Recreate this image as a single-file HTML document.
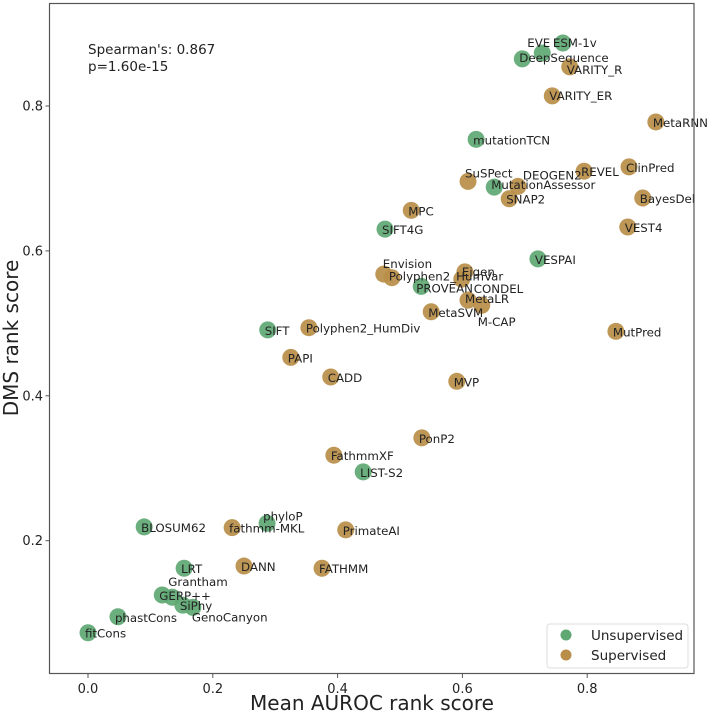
<!DOCTYPE html>
<html><head><meta charset="utf-8"><style>
html,body{margin:0;padding:0;background:#fff;}
svg{display:block;font-family:"DejaVu Sans","Liberation Sans",sans-serif;}
</style></head><body>
<svg id="chart" width="709" height="716" viewBox="0 0 709 716">
<rect x="0" y="0" width="709" height="716" fill="#fff"/>
<g id="axes"></g>
<g id="points"></g>
<g id="labels"></g>
<rect x="49.5" y="3.5" width="644.5" height="670" fill="none" stroke="#555" stroke-width="1.2"/>
<text x="88" y="54" font-size="13.5" fill="#222">Spearman's: 0.867</text>
<text x="88" y="71" font-size="13.5" fill="#222">p=1.60e-15</text>
<text x="372" y="710" font-size="20" fill="#222" text-anchor="middle">Mean AUROC rank score</text>
<text transform="translate(18,338) rotate(-90)" font-size="20" fill="#222" text-anchor="middle">DMS rank score</text>
<g>
<rect x="547" y="624" width="141" height="44" rx="3" fill="#fff" stroke="#ddd"/>
<circle cx="566" cy="635" r="5.5" fill="#5fa873"/>
<text x="591" y="640" font-size="13.5" fill="#222">Unsupervised</text>
<circle cx="566" cy="655" r="5.5" fill="#b98e48"/>
<text x="591" y="660" font-size="13.5" fill="#222">Supervised</text>
</g>
</svg>
<script>
const names = ["ESM-1v","EVE","DeepSequence","VARITY_R","VARITY_ER","MetaRNN","mutationTCN","SuSPect","MutationAssessor","DEOGEN2","SNAP2","REVEL","ClinPred","BayesDel","VEST4","MPC","SIFT4G","VESPAI","Envision","Polyphen2_HumVar","Eigen","CONDEL","PROVEAN","MetaLR","M-CAP","MetaSVM","MutPred","SIFT","Polyphen2_HumDiv","PAPI","CADD","MVP","PonP2","FathmmXF","LIST-S2","phyloP","fathmm-MKL","PrimateAI","BLOSUM62","LRT","DANN","FATHMM","GERP++","Grantham","SiPhy","GenoCanyon","phastCons","fitCons"];
const xValues = [0.761,0.728,0.696,0.772,0.744,0.910,0.622,0.609,0.651,0.689,0.675,0.795,0.867,0.889,0.865,0.518,0.476,0.721,0.474,0.487,0.604,0.599,0.534,0.609,0.631,0.550,0.846,0.288,0.354,0.325,0.389,0.591,0.535,0.394,0.441,0.287,0.231,0.413,0.090,0.154,0.250,0.375,0.119,0.135,0.152,0.168,0.048,0.000];
const yValues = [0.887,0.873,0.865,0.854,0.814,0.778,0.754,0.696,0.688,0.689,0.672,0.710,0.716,0.673,0.633,0.656,0.630,0.589,0.568,0.563,0.571,0.561,0.551,0.532,0.525,0.516,0.489,0.491,0.494,0.453,0.426,0.420,0.342,0.318,0.295,0.224,0.218,0.215,0.219,0.162,0.165,0.162,0.125,0.122,0.111,0.108,0.095,0.073];
const groups = ["U","U","U","S","S","S","U","S","U","S","S","S","S","S","S","S","U","U","S","S","S","S","U","S","S","S","S","U","S","S","S","S","S","S","U","U","S","S","U","U","S","S","U","U","U","U","U","U"];
const xTicks = [0.0,0.2,0.4,0.6,0.8];
const yTicks = [0.2,0.4,0.6,0.8];
// label offsets in px (style, not data)
const labelDx = {"EVE":-15,"ESM-1v":-10,"DEOGEN2":5,"Envision":-1,"PROVEAN":-5,"CONDEL":12,"M-CAP":-4,"phyloP":-4,"Grantham":-4,"GenoCanyon":-1};
const labelDy = {"EVE":-6,"ESM-1v":4,"DeepSequence":3,"VARITY_R":7,"VARITY_ER":4,"SuSPect":-4,"DEOGEN2":-7,"MutationAssessor":2,"Envision":-6,"Polyphen2_HumVar":3,"Eigen":4,"PROVEAN":6,"CONDEL":14,"MetaLR":3,"M-CAP":21,"phyloP":-3,"Grantham":-11,"GenoCanyon":14};

const NS="http://www.w3.org/2000/svg";
const xs = v => 88 + v*624;
const ys = v => 685.6 - v*724.5;
const axes=document.getElementById('axes');
const pts=document.getElementById('points');
const lbls=document.getElementById('labels');
function mk(tag,attrs,parent){const e=document.createElementNS(NS,tag);for(const k in attrs)e.setAttribute(k,attrs[k]);parent.appendChild(e);return e;}
xTicks.forEach(t=>{
  const x=xs(t);
  const l=mk('line',{x1:x,x2:x,y1:674,y2:678,stroke:'#555'},axes);
  
  
  const tx=mk('text',{x:x,y:693,'font-size':13,'text-anchor':'middle',fill:'#222'},axes);
  tx.textContent=t.toFixed(1);
  
  
});
yTicks.forEach(t=>{
  const y=ys(t);
  const l=mk('line',{x1:45.5,x2:49.5,y1:y,y2:y,stroke:'#555'},axes);
  
  
  const tx=mk('text',{x:43,y:y+4.5,'font-size':13,'text-anchor':'end',fill:'#222'},axes);
  tx.textContent=t.toFixed(1);
  
  
});
names.forEach((n,i)=>{
  const cx=xs(xValues[i]), cy=ys(yValues[i]);
  const c=mk('circle',{cx:cx,cy:cy,r:8.5,fill:groups[i]==='U'?'#5fa873':'#b98e48','fill-opacity':0.92},pts);
  
  
  const dx=(n in labelDx)?labelDx[n]:-3, dy=(n in labelDy)?labelDy[n]:5;
  const t=mk('text',{x:cx+dx,y:cy+dy,'font-size':11.8,fill:'#222'},lbls);
  t.textContent=n;
  
  
});
</script>
</body></html>
